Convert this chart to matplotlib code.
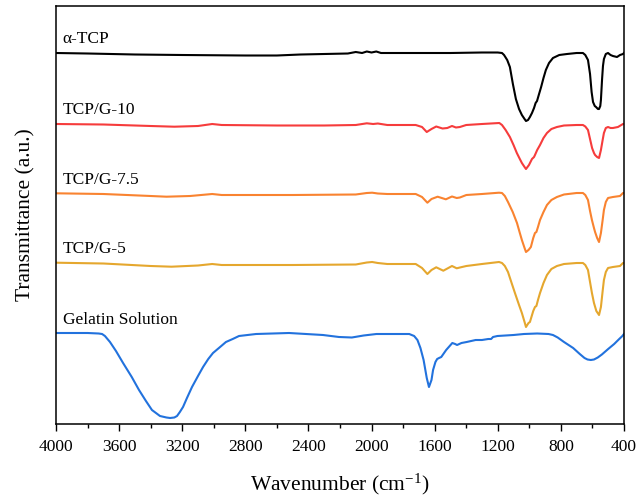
import matplotlib.pyplot as plt
from matplotlib.ticker import MultipleLocator

plt.rcParams["font.family"] = ["Liberation Serif", "DejaVu Serif"]
plt.rcParams["mathtext.fontset"] = "custom"
plt.rcParams["mathtext.rm"] = "Liberation Serif"
plt.rcParams["mathtext.default"] = "regular"

# alpha-TCP
tcp_w = [4000, 3800, 3500, 3200, 2800, 2600, 2450, 2150, 2100, 2060, 2030, 2000, 1970,
         1940, 1800, 1500, 1300, 1200, 1173, 1160, 1140, 1123, 1104, 1085, 1065, 1047,
         1030, 1021, 1008, 996, 983, 970, 960, 951, 940, 925, 910, 895, 875, 850, 810,
         761, 700, 660, 645, 628, 615, 605, 596, 585, 577, 565, 558, 550, 546, 539,
         533, 527, 515, 501, 485, 470, 444, 425, 406, 400]
tcp_t = [371, 370.5, 369.5, 369, 368.5, 368.5, 369.5, 370.5, 372, 371, 372.5, 371.5, 372.5,
         371, 371, 371, 371.5, 371.5, 371, 369, 364, 357, 340, 325, 315, 309,
         305, 303, 304, 307, 311, 316, 321, 323, 329, 337, 346, 354, 361, 366, 369,
         370, 371, 371, 369, 364, 350, 332, 322, 318, 317, 315, 315, 318, 324, 344,
         358, 365, 370, 371, 369, 368, 367, 369, 370, 371]

# TCP/G-10
g10_w = [4000, 3700, 3400, 3250, 3100, 3010, 2950, 2600, 2300, 2100, 2030, 1990, 1960,
         1900, 1720, 1680, 1650, 1620, 1590, 1550, 1520, 1490, 1465, 1440, 1400, 1300,
         1190, 1173, 1150, 1123, 1100, 1079, 1060, 1047, 1030, 1021, 1002, 983, 970,
         964, 950, 932, 910, 888, 860, 825, 780, 700, 660, 645, 628, 615, 602, 590, 583,
         570, 558, 546, 535, 527, 515, 501, 485, 470, 438, 406, 400]
g10_t = [300, 299.5, 298, 297.3, 298, 300, 299, 298.5, 298.5, 299, 300.7, 300, 300.5,
         299, 299, 297, 292, 295, 297.5, 295.5, 296, 298, 296.5, 297, 299, 300,
         301, 299, 294, 287, 279, 271, 265, 261, 257, 255, 259, 265, 267,
         269, 274, 279, 286, 291, 295, 297, 298.5, 299, 299, 297.5, 294, 285, 276, 271, 269,
         267, 266, 274, 284, 291, 296, 297, 296, 296, 297, 300, 300]

# TCP/G-7.5
g75_w = [4000, 3700, 3400, 3300, 3150, 3010, 2950, 2500, 2100, 2030, 1996, 1960, 1900,
         1720, 1680, 1646, 1620, 1581, 1529, 1490, 1460, 1440, 1399, 1300, 1192, 1173,
         1155, 1135, 1105, 1078, 1060, 1047, 1030, 1021, 1005, 990, 975, 964, 955, 945,
         932, 910, 888, 860, 825, 780, 700, 660, 645, 628, 615, 603, 590, 583, 570, 558,
         546, 535, 527, 515, 501, 470, 425, 406, 400]
g75_t = [230.7, 230, 228, 227.3, 228, 230, 229, 229, 229.5, 231, 231.3, 230.5, 230,
         230, 227, 221.3, 225, 227.3, 224.7, 227.5, 226, 226.5, 229, 230, 231.3, 231,
         228, 222, 212, 201, 191, 184, 176, 172, 174, 177, 186, 191, 192, 197,
         204, 212, 219, 224, 227, 229.5, 231, 231, 229, 224, 213, 204, 196, 192, 186, 182,
         191, 204, 214, 222, 226, 227, 228, 231, 231]

# TCP/G-5
g5_w = [4000, 3700, 3400, 3268, 3100, 3010, 2950, 2500, 2100, 2030, 1996, 1960, 1900,
        1720, 1680, 1646, 1620, 1590, 1545, 1490, 1460, 1440, 1399, 1300, 1192, 1173,
        1155, 1135, 1110, 1091, 1065, 1047, 1030, 1021, 1005, 996, 975, 964, 955, 945,
        932, 910, 888, 860, 825, 780, 700, 660, 645, 628, 615, 603, 590, 575, 558,
        546, 535, 527, 515, 501, 470, 425, 406, 400]
g5_t = [161.3, 160.5, 158, 157.3, 158.5, 160, 159, 159, 159.5, 161.5, 162, 161, 160,
        160, 156, 150, 154, 156.7, 153.3, 158, 155.7, 156.5, 158, 160, 162, 161,
        158, 152, 140, 131, 119, 111, 102, 97, 101, 102, 113, 117, 118, 124,
        131, 141, 149, 155, 158, 160, 161, 161, 159, 154, 142, 131, 121, 113, 109,
        117, 133, 144, 152, 156, 157, 158, 161, 161]

# Gelatin solution
gel_w = [4000, 3800, 3730, 3708, 3690, 3658, 3620, 3575, 3520, 3474, 3430, 3392, 3341,
         3300, 3277, 3250, 3233, 3215, 3195, 3170, 3138, 3100, 3068, 3035, 3005, 2960,
         2923, 2880, 2840, 2732, 2523, 2308, 2206, 2125, 2050, 1969, 1761, 1730, 1709,
         1690, 1670, 1650, 1636, 1620, 1610, 1595, 1584, 1572, 1558, 1527, 1488, 1470,
         1458, 1430, 1397, 1340, 1300, 1260, 1242, 1230, 1202, 1100, 1034, 950, 878,
         850, 820, 780, 722, 680, 650, 631, 610, 590, 566, 540, 500, 462, 430, 410, 400]
gel_t = [91, 91, 90.5, 90, 88, 82, 73, 61, 47, 34, 23, 14, 8,
         6.5, 6, 6.5, 8, 12, 17, 26, 37, 48, 57, 65, 71, 77,
         82, 85, 88, 90, 91, 89, 87, 86.5, 88.5, 90, 90, 88, 84,
         76, 64, 46, 37, 44, 54, 62, 65, 66, 67, 74, 81, 80,
         79, 81, 82, 84, 84, 85, 85, 87, 88, 89, 90, 90.5, 90,
         89, 86.5, 82, 76, 70, 66, 64.5, 64, 64.5, 66.5, 69.5, 75, 80, 85, 88, 90]

labels = ["\u03b1-TCP", "TCP/G-10", "TCP/G-7.5", "TCP/G-5", "Gelatin Solution"]
label_y = [385, 314, 244, 175, 104]
colors = ["black", "#f63c3c", "#f98330", "#e5a72e", "#2272dd"]
xs = [tcp_w, g10_w, g75_w, g5_w, gel_w]
ys = [tcp_t, g10_t, g75_t, g5_t, gel_t]

fig = plt.figure(figsize=(6.41, 5.0), dpi=100)
ax = fig.add_axes([0.0874, 0.152, 0.886, 0.836])

for x, y, c, lab, ly in zip(xs, ys, colors, labels, label_y):
    ax.plot(x, y, color=c, lw=1.5)
    ax.text(3958, ly, lab, color="black", fontsize=12.5, va="center", ha="left")

ax.set_xlim(4000, 400)
ax.set_ylim(0, 418)
ax.xaxis.set_major_locator(MultipleLocator(400))
ax.xaxis.set_minor_locator(MultipleLocator(200))
ax.tick_params(axis="x", which="major", direction="out", length=5, width=1,
               labelsize=12.5, pad=6)
ax.tick_params(axis="x", which="minor", direction="out", length=3, width=1)
ax.set_yticks([])
for s in ax.spines.values():
    s.set_linewidth(1.1)

ax.set_xlabel("Wavenumber (cm$^{-1}$)", fontsize=15.5, labelpad=12)
ax.set_ylabel("Transmittance (a.u.)", fontsize=15.5, labelpad=15)

fig.savefig("out.png", dpi=100)
